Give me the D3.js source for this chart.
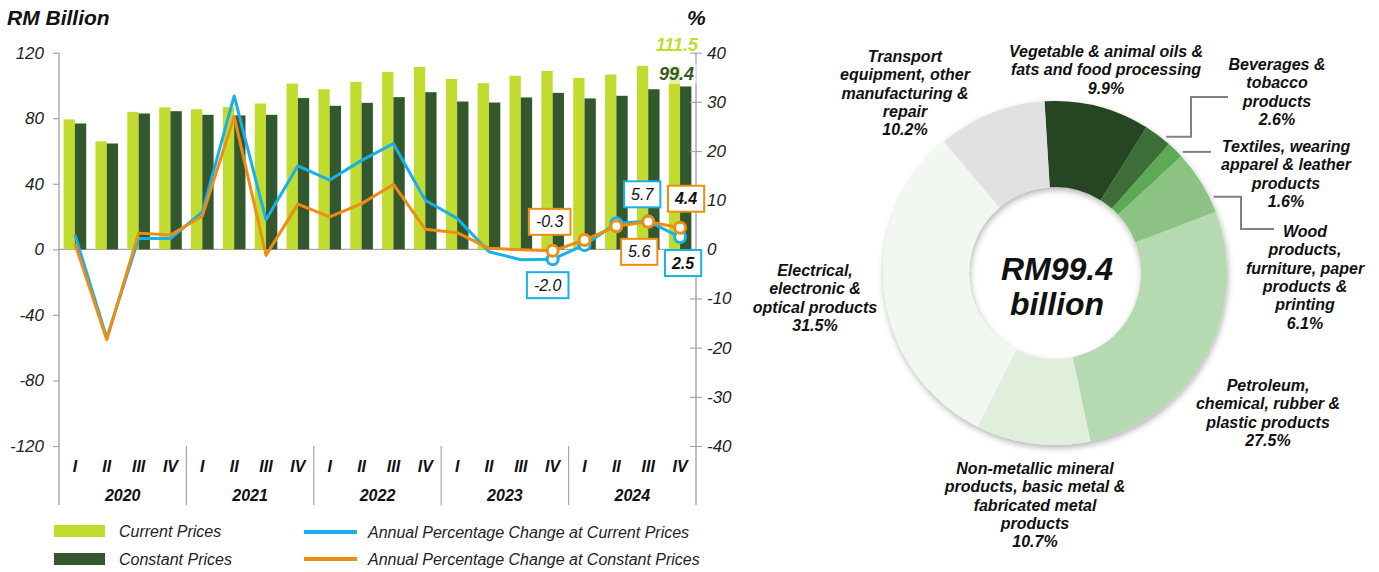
<!DOCTYPE html>
<html>
<head>
<meta charset="utf-8">
<script src="https://cdn.jsdelivr.net/npm/d3@7"></script>
<style>
  body { margin: 0; background: #fff; font-family: "Liberation Sans", Arial, sans-serif; }
</style>
</head>
<body>
<div id="chart"></div>
<script>
// ---- data ----------------------------------------------------------------
var years = ["2020", "2021", "2022", "2023", "2024"];
var quarterNames = ["I", "II", "III", "IV"];

// RM billion
var currentPrices  = [79.3, 65.9, 83.9, 86.6, 85.5, 86.8, 89.0, 101.2, 97.7, 102.2, 108.3, 111.3, 104.0, 101.4, 105.9, 108.9, 104.6, 106.7, 112.0, 111.5];
var constantPrices = [76.8, 64.6, 82.9, 84.3, 82.1, 81.7, 82.1, 92.3, 87.6, 89.4, 92.9, 95.9, 90.2, 89.6, 92.7, 95.5, 92.1, 93.7, 97.7, 99.4];

// annual % change
var pctCurrent  = [3.0, -18.0, 2.2, 2.2, 7.6, 31.2, 6.0, 17.0, 14.1, 18.1, 21.5, 10.0, 6.3, -0.5, -2.1, -2.0, 0.9, 5.3, 5.7, 2.5];
var pctConstant = [1.2, -18.4, 3.3, 2.9, 6.8, 27.0, -1.2, 9.2, 6.6, 9.3, 13.2, 4.1, 3.4, 0.2, -0.1, -0.3, 1.9, 4.7, 5.6, 4.4];

var leftTicks  = [-120, -80, -40, 0, 40, 80, 120];
var rightTicks = [-40, -30, -20, -10, 0, 10, 20, 30, 40];

// donut: share of manufacturing output (%)
var sectorLabels = [
  ["Vegetable & animal oils &", "fats and food processing"],
  ["Beverages &", "tobacco", "products"],
  ["Textiles, wearing", "apparel & leather", "products"],
  ["Wood", "products,", "furniture, paper", "products &", "printing"],
  ["Petroleum,", "chemical, rubber &", "plastic products"],
  ["Non-metallic mineral", "products, basic metal &", "fabricated metal", "products"],
  ["Electrical,", "electronic &", "optical products"],
  ["Transport", "equipment, other", "manufacturing &", "repair"]
];
var sectorShares = [9.9, 2.6, 1.6, 6.1, 27.5, 10.7, 31.5, 10.2];
var donutTotal = "RM99.4";

// ---- styles ----------------------------------------------------------------
var FONT = '"Liberation Sans", Arial, sans-serif';
var cLight = "#C1DC2E", cDark = "#33582D", cBlue = "#17B1EA", cOrange = "#EE8D12";
var sectorColors = ["#264421", "#3D6E37", "#5BAA55", "#8CC385", "#B5D9B0", "#E0EFDC", "#F2F7F1", "#E1E1E1"];

// plain hyphen instead of d3's unicode minus
var fmt1 = function(v) { return v.toFixed(1); };
var fmt0 = function(v) { return String(v); };

var svg = d3.select("#chart").append("svg")
    .attr("width", 1379)
    .attr("height", 572)
    .style("font-family", FONT);

// ---- left chart --------------------------------------------------------------
var categories = [];
years.forEach(function(y) {
  quarterNames.forEach(function(q) { categories.push(y + "-" + q); });
});

var x = d3.scaleBand()
    .domain(categories)
    .range([59, 696])
    .paddingInner(0.29)
    .paddingOuter(0.145);
var xSub = d3.scaleBand().domain(["cur", "con"]).range([0, x.bandwidth()]);
var cx = function(i) { return x(categories[i]) + x.bandwidth() / 2; };

var yL = d3.scaleLinear().domain([-120, 120]).range([446, 52.7]);
var yR = d3.scaleLinear().domain([-40, 40]).range([446, 52.7]);

var axisColor = "#A6A6A6";

// zero line
svg.append("line")
    .attr("x1", 59).attr("x2", 696)
    .attr("y1", yL(0)).attr("y2", yL(0))
    .attr("stroke", axisColor).attr("stroke-width", 1.2);

// bars
var barData = categories.map(function(c, i) {
  return {cat: c, cur: currentPrices[i], con: constantPrices[i]};
});
var groups = svg.append("g").selectAll("g")
  .data(barData)
  .enter().append("g")
    .attr("transform", function(d) { return "translate(" + x(d.cat) + ",0)"; });

groups.append("rect")
    .attr("x", xSub("cur"))
    .attr("width", xSub.bandwidth())
    .attr("y", function(d) { return yL(d.cur); })
    .attr("height", function(d) { return yL(0) - yL(d.cur); })
    .attr("fill", cLight);
groups.append("rect")
    .attr("x", xSub("con"))
    .attr("width", xSub.bandwidth())
    .attr("y", function(d) { return yL(d.con); })
    .attr("height", function(d) { return yL(0) - yL(d.con); })
    .attr("fill", cDark);

// axes
var gl = svg.append("g")
    .attr("transform", "translate(59,0)")
    .call(d3.axisLeft(yL).tickValues(leftTicks).tickFormat(fmt0).tickSize(6).tickPadding(9));
gl.select(".domain").remove();
gl.selectAll(".tick line").attr("stroke", axisColor).attr("stroke-width", 1.2);
gl.selectAll(".tick text")
    .attr("fill", "#222")
    .style("font-size", "17px").style("font-style", "italic").style("font-family", FONT);

var gr = svg.append("g")
    .attr("transform", "translate(696,0)")
    .call(d3.axisRight(yR).tickValues(rightTicks).tickFormat(fmt0).tickSize(6).tickPadding(5));
gr.select(".domain").remove();
gr.selectAll(".tick line").attr("x1", -6).attr("stroke", axisColor).attr("stroke-width", 1.2);
gr.selectAll(".tick text")
    .attr("fill", "#222")
    .style("font-size", "17px").style("font-style", "italic").style("font-family", FONT);

[59, 696].forEach(function(px) {
  svg.append("line")
      .attr("x1", px).attr("x2", px).attr("y1", 52.7).attr("y2", 505)
      .attr("stroke", axisColor).attr("stroke-width", 1.4);
});

// category labels
svg.append("g").selectAll("text")
  .data(categories)
  .enter().append("text")
    .attr("x", function(d) { return x(d) + x.bandwidth() / 2; })
    .attr("y", 472)
    .attr("text-anchor", "middle")
    .style("font-size", "16px").style("font-weight", "bold").style("font-style", "italic")
    .attr("fill", "#111")
    .text(function(d) { return d.split("-")[1]; });

years.forEach(function(y, k) {
  var first = x(y + "-I") - x.step() * x.paddingInner() / 2;
  var last = x(y + "-IV") + x.bandwidth() + x.step() * x.paddingInner() / 2;
  svg.append("text")
      .attr("x", (first + last) / 2).attr("y", 501)
      .attr("text-anchor", "middle")
      .style("font-size", "16px").style("font-weight", "bold").style("font-style", "italic")
      .attr("fill", "#111")
      .text(y);
  if (k > 0) {
    svg.append("line")
        .attr("x1", first).attr("x2", first).attr("y1", 446).attr("y2", 505)
        .attr("stroke", axisColor).attr("stroke-width", 1.2);
  }
});

// lines
var line = d3.line()
    .x(function(d) { return cx(d.i); })
    .y(function(d) { return yR(d.v); });

function series(vals) { return vals.map(function(v, i) { return {i: i, v: v}; }); }

var sBlue = series(pctCurrent), sOrange = series(pctConstant);

svg.append("path").datum(sBlue)
    .attr("d", line).attr("fill", "none")
    .attr("stroke", cBlue).attr("stroke-width", 3).attr("stroke-linejoin", "round");
svg.append("path").datum(sOrange)
    .attr("d", line).attr("fill", "none")
    .attr("stroke", cOrange).attr("stroke-width", 3).attr("stroke-linejoin", "round");

[[sBlue, cBlue], [sOrange, cOrange]].forEach(function(s) {
  svg.append("g").selectAll("circle")
    .data(s[0].slice(15))
    .enter().append("circle")
      .attr("cx", function(d) { return cx(d.i); })
      .attr("cy", function(d) { return yR(d.v); })
      .attr("r", 5.5)
      .attr("fill", "#fff")
      .attr("stroke", s[1]).attr("stroke-width", 3);
});

// value boxes: [series, index, dx, dy, bold, colour]
var callouts = [
  [sOrange, 15, -3, -29, false, cOrange],
  [sBlue, 15, -5, 26, false, cBlue],
  [sBlue, 18, -6, -27, false, cBlue],
  [sOrange, 18, -9, 30, false, cOrange],
  [sOrange, 19, 6, -29, true, cOrange],
  [sBlue, 19, 3, 26, true, cBlue]
];
callouts.forEach(function(c) {
  var d = c[0][c[1]];
  var px = cx(d.i) + c[2], py = yR(d.v) + c[3];
  var g = svg.append("g");
  var t = g.append("text")
      .attr("x", px).attr("y", py + 5.5)
      .attr("text-anchor", "middle")
      .style("font-size", "16px").style("font-style", "italic")
      .style("font-weight", c[4] ? "bold" : "normal")
      .attr("fill", "#111")
      .text(fmt1(d.v));
  var w = t.node().getComputedTextLength() + 14;
  g.insert("rect", "text")
      .attr("x", px - w / 2).attr("y", py - 13)
      .attr("width", w).attr("height", 26)
      .attr("fill", "#fff").attr("stroke", c[5]).attr("stroke-width", 2);
});

// last-value labels
svg.append("text")
    .attr("x", 698).attr("y", 51).attr("text-anchor", "end")
    .style("font-size", "18px").style("font-weight", "bold").style("font-style", "italic")
    .attr("fill", cLight).text(fmt1(currentPrices[19]));
svg.append("rect")
    .attr("x", x(categories[19]) - 2).attr("y", 63).attr("width", 30).attr("height", 21)
    .attr("fill", "#fff").attr("opacity", 0.6);
svg.append("text")
    .attr("x", 694).attr("y", 80).attr("text-anchor", "end")
    .style("font-size", "18px").style("font-weight", "bold").style("font-style", "italic")
    .attr("fill", cDark).text(fmt1(constantPrices[19]));

// axis titles
svg.append("text").attr("x", 7).attr("y", 25)
    .style("font-size", "21px").style("font-weight", "bold").style("font-style", "italic")
    .attr("fill", "#111").text("RM Billion");
svg.append("text").attr("x", 687).attr("y", 25)
    .style("font-size", "21px").style("font-weight", "bold").style("font-style", "italic")
    .attr("fill", "#111").text("%");

// legend
var legend = [
  {type: "rect", color: cLight, label: "Current Prices", x: 54, y: 531},
  {type: "rect", color: cDark, label: "Constant Prices", x: 54, y: 559},
  {type: "line", color: cBlue, label: "Annual Percentage Change at Current Prices", x: 304, y: 532},
  {type: "line", color: cOrange, label: "Annual Percentage Change at Constant Prices", x: 304, y: 559}
];
legend.forEach(function(l) {
  if (l.type === "rect") {
    svg.append("rect").attr("x", l.x).attr("y", l.y - 6).attr("width", 51).attr("height", 12).attr("fill", l.color);
  } else {
    svg.append("line").attr("x1", l.x).attr("x2", l.x + 53).attr("y1", l.y).attr("y2", l.y)
        .attr("stroke", l.color).attr("stroke-width", 4);
  }
  svg.append("text")
      .attr("x", l.type === "rect" ? 119 : 368).attr("y", l.y + 5.5)
      .style("font-size", "16px").style("font-style", "italic")
      .attr("fill", "#222").text(l.label);
});

// ---- donut -------------------------------------------------------------------
var dcx = 1055, dcy = 273, rOuter = 172, rInner = 86;
var defs = svg.append("defs");
var f = defs.append("filter").attr("id", "shadow")
    .attr("x", "-20%").attr("y", "-20%").attr("width", "140%").attr("height", "140%");
f.append("feDropShadow").attr("dx", 1).attr("dy", 3).attr("stdDeviation", 3)
    .attr("flood-color", "#000").attr("flood-opacity", 0.3);

var startA = -3.5 * Math.PI / 180;
var pie = d3.pie().sort(null).value(function(d) { return d; })
    .startAngle(startA).endAngle(startA + 2 * Math.PI);
var arc = d3.arc().innerRadius(rInner).outerRadius(rOuter);
var arcs = pie(sectorShares);

var dg = svg.append("g").attr("transform", "translate(" + dcx + "," + dcy + ")");
dg.append("g").attr("filter", "url(#shadow)")
  .selectAll("path")
  .data(arcs)
  .enter().append("path")
    .attr("d", arc)
    .attr("fill", function(d, i) { return sectorColors[i]; });

dg.append("text").attr("x", 2).attr("y", 7).attr("text-anchor", "middle")
    .style("font-size", "32px").style("font-weight", "bold").style("font-style", "italic")
    .attr("fill", "#111").text(donutTotal);
dg.append("text").attr("x", 2).attr("y", 42).attr("text-anchor", "middle")
    .style("font-size", "32px").style("font-weight", "bold").style("font-style", "italic")
    .attr("fill", "#111").text("billion");

// label layout: centre x, first baseline
var labelPos = [[1106, 57], [1277, 70], [1286, 152], [1305, 237], [1268, 391], [1035, 474], [815, 276], [905, 62]];
sectorLabels.forEach(function(lines, i) {
  var t = svg.append("text")
      .attr("text-anchor", "middle")
      .style("font-size", "16px").style("font-weight", "bold").style("font-style", "italic")
      .attr("fill", "#111");
  lines.concat([fmt1(sectorShares[i]) + "%"]).forEach(function(s, k) {
    t.append("tspan").attr("x", labelPos[i][0]).attr("y", labelPos[i][1] + k * 18.3).text(s);
  });
});

// leader lines: slice, fraction along slice, elbow x, end y, end x
var leaders = [[1, 0.76, 1191, 97, 1228], [2, 0.88, null, 152, 1211], [3, 0.78, 1241, 229, 1274]];
leaders.forEach(function(l) {
  var a = arcs[l[0]];
  var ang = a.startAngle + (a.endAngle - a.startAngle) * l[1];
  var r = rOuter + 4;
  var sx = dcx + r * Math.sin(ang), sy = dcy - r * Math.cos(ang);
  var pts = l[2] === null ? [[sx, sy], [l[4], sy]] : [[sx, sy], [l[2], sy], [l[2], l[3]], [l[4], l[3]]];
  svg.append("path")
      .attr("d", d3.line()(pts))
      .attr("fill", "none").attr("stroke", "#808080").attr("stroke-width", 2);
});
</script>
</body>
</html>
